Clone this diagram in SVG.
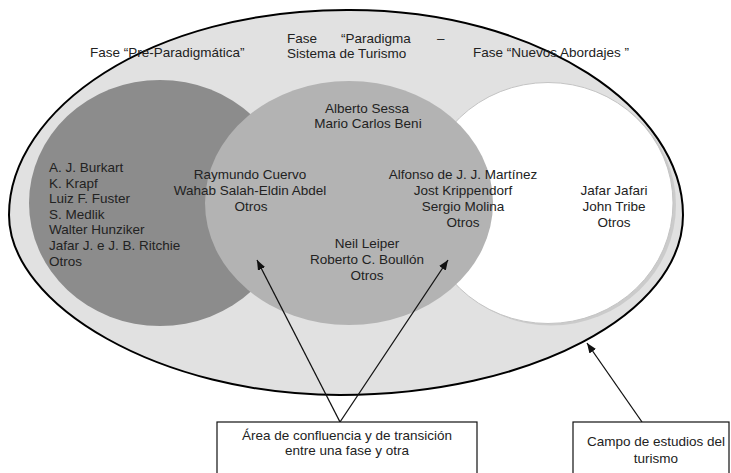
<svg xmlns="http://www.w3.org/2000/svg" width="731" height="473" viewBox="0 0 731 473">
<defs>
<style>
text{font-family:"Liberation Sans",Arial,sans-serif;font-size:13.5px;fill:#222}
.m{text-anchor:middle}
.conn{stroke:#111;stroke-width:1.3;fill:none}
.box{fill:#fff;stroke:#111;stroke-width:1.2}
</style>
<marker id="ah" viewBox="0 0 10 8" refX="10" refY="4" markerWidth="10" markerHeight="8" markerUnits="userSpaceOnUse" orient="auto">
<path d="M0,0 L10,4 L0,8 Z" fill="#111"/>
</marker>
</defs>
<rect width="731" height="473" fill="#fff"/>
<g id="campo">
<path d="M350,10 C540,10 683,110 683,215 C683,314 529,395 340,395 C160,395 9,305 9,215 C9,110 150,9 350,10 Z" fill="#e1e1e1" stroke="#000" stroke-width="2"/>
</g>
<g id="fase-pre">
<ellipse cx="160" cy="203" rx="131" ry="123" fill="#8c8c8c"/>
</g>
<g id="fase-nuevos">
<ellipse cx="551" cy="205" rx="125" ry="120.5" fill="#cbcbcb"/>
<ellipse cx="548" cy="203" rx="125" ry="120.5" fill="#fff" stroke="#c4c4c4" stroke-width="1"/>
</g>
<g id="fase-paradigma">
<ellipse cx="349" cy="203" rx="144" ry="122" fill="#b3b3b3"/>
</g>
<g id="labels-fases">
<text x="90" y="57">Fase “Pre-Paradigmática”</text>
<text x="287" y="43">Fase</text>
<text x="341" y="43">“Paradigma</text>
<text x="437" y="43">–</text>
<text x="287" y="58">Sistema de Turismo</text>
<text x="473" y="57">Fase “Nuevos Abordajes ”</text>
</g>
<g id="autores-pre">
<text x="49" y="172">A. J. Burkart</text>
<text x="49" y="187.6">K. Krapf</text>
<text x="49" y="203.2">Luiz F. Fuster</text>
<text x="49" y="218.8">S. Medlik</text>
<text x="49" y="234.4">Walter Hunziker</text>
<text x="49" y="250">Jafar J. e J. B. Ritchie</text>
<text x="49" y="265.6">Otros</text>
</g>
<g id="autores-paradigma">
<text class="m" x="367" y="113">Alberto Sessa</text>
<text class="m" x="368" y="128">Mario Carlos Beni</text>
<text class="m" x="250" y="179">Raymundo Cuervo</text>
<text class="m" x="250" y="195">Wahab Salah-Eldin Abdel</text>
<text class="m" x="251" y="211">Otros</text>
<text class="m" x="463" y="179">Alfonso de J. J. Martínez</text>
<text class="m" x="463" y="195">Jost Krippendorf</text>
<text class="m" x="463" y="211">Sergio Molina</text>
<text class="m" x="463" y="227">Otros</text>
<text class="m" x="367" y="248">Neil Leiper</text>
<text class="m" x="367" y="264">Roberto C. Boullón</text>
<text class="m" x="367" y="280">Otros</text>
</g>
<g id="autores-nuevos">
<text class="m" x="614" y="195">Jafar Jafari</text>
<text class="m" x="614" y="211">John Tribe</text>
<text class="m" x="614" y="227">Otros</text>
</g>
<g id="connectors">
<line class="conn" x1="340" y1="422" x2="257" y2="260" marker-end="url(#ah)"/>
<line class="conn" x1="340" y1="422" x2="448" y2="260" marker-end="url(#ah)"/>
<line class="conn" x1="642" y1="422" x2="587" y2="343" marker-end="url(#ah)"/>
</g>
<g id="box-confluencia">
<rect class="box" x="217" y="422" width="260" height="60"/>
<text class="m" x="347" y="440">Área de confluencia y de transición</text>
<text class="m" x="347" y="455">entre una fase y otra</text>
</g>
<g id="box-campo">
<rect class="box" x="573" y="422" width="156" height="60"/>
<text class="m" x="656" y="446">Campo de estudios del</text>
<text class="m" x="656" y="463">turismo</text>
</g>
</svg>
